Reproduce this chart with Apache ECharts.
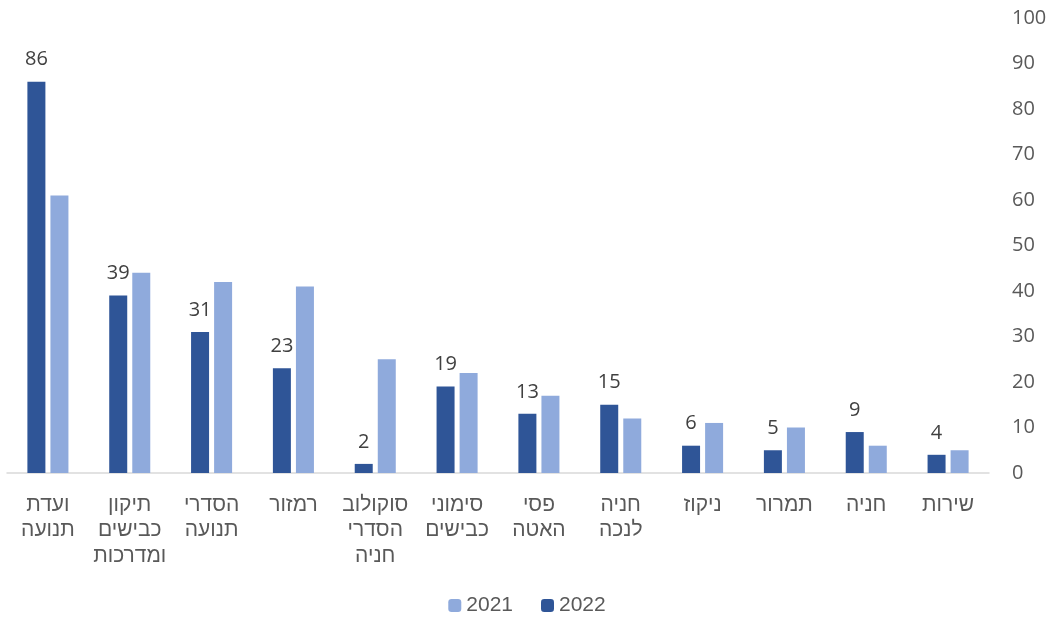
<!DOCTYPE html>
<html><head><meta charset="utf-8">
<script src="https://cdn.jsdelivr.net/npm/echarts@6/dist/echarts.min.js"></script>
<style>html,body{margin:0;padding:0;background:#fff}#c{width:1054px;height:623px}</style>
</head><body><div id="c"></div>
<script>
const categories = ['ועדת\nתנועה','תיקון\nכבישים\nומדרכות','הסדרי\nתנועה','רמזור','סוקולוב\nהסדרי\nחניה','סימוני\nכבישים','פסי\nהאטה','חניה\nלנכה','ניקוז','תמרור','חניה','שירות'];
const values2021 = [61,44,42,41,25,22,17,12,11,10,6,5];
const values2022 = [86,39,31,23,2,19,13,15,6,5,9,4];
const yTicks = {min:0,max:100,interval:10};

const chart = echarts.init(document.getElementById('c'));
chart.setOption({
  animation:false,
  grid:{left:7,right:65,top:18,bottom:150},
  legend:{bottom:2,left:'center',itemWidth:13,itemHeight:13,itemGap:28,
    textStyle:{fontFamily:'Liberation Sans',fontSize:21,color:'#595959'},
    data:['2021','2022']},
  xAxis:{type:'category',data:categories,
    axisLine:{lineStyle:{color:'#D9D9D9',width:1.5}},axisTick:{show:false},
    axisLabel:{interval:0,margin:19,fontFamily:'Liberation Sans',fontSize:21,lineHeight:25.5,color:'#595959',align:'center'}},
  yAxis:{type:'value',position:'right',min:yTicks.min,max:yTicks.max,interval:yTicks.interval,
    splitLine:{show:false},axisLine:{show:false},axisTick:{show:false},
    axisLabel:{margin:23,align:'left',fontFamily:'Open Sans',fontSize:20,color:'#595959'}},
  series:[
    {name:'2022',type:'bar',data:values2022,barWidth:18,barGap:'28%',
      itemStyle:{color:'#2F5597'},
      label:{show:true,position:'top',distance:12,fontFamily:'Open Sans',fontSize:20,color:'#404040'}},
    {name:'2021',type:'bar',data:values2021,barWidth:18,
      itemStyle:{color:'#8FAADC'}}
  ]
});
</script></body></html>
